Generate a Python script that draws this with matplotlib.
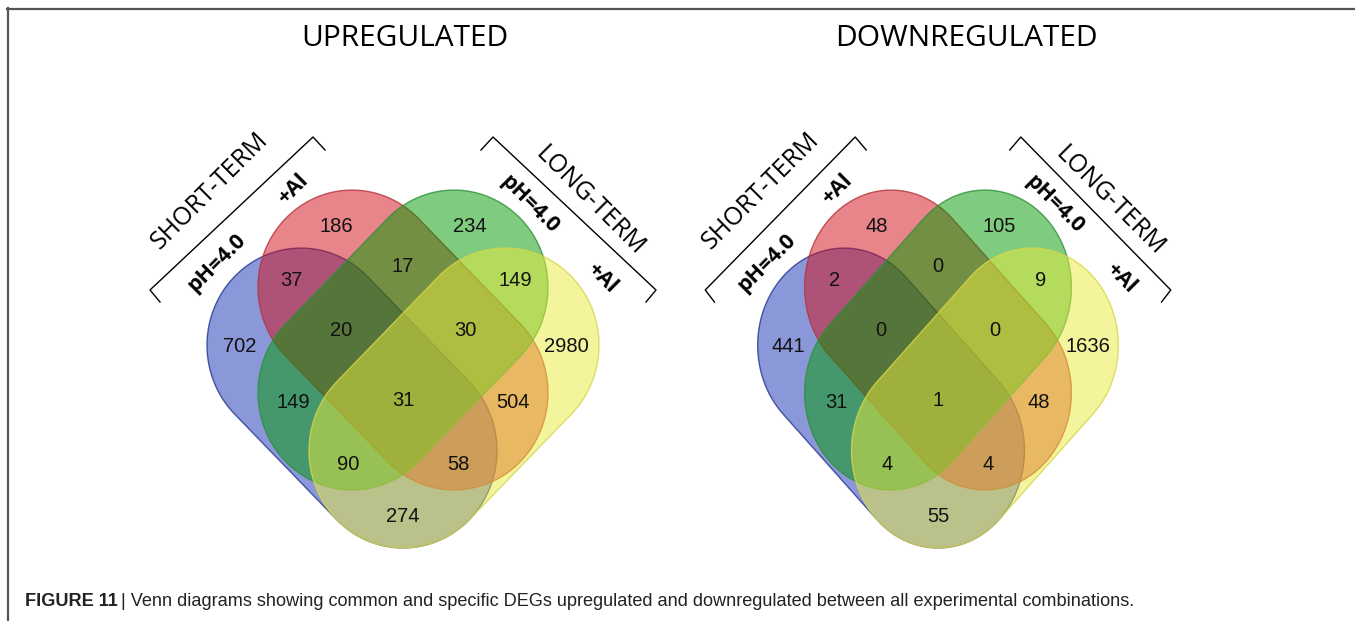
import numpy as np
import matplotlib.pyplot as plt
from matplotlib.patches import Polygon

# region order: A = short pH4.0 (blue), B = short +Al (red), C = long pH4.0 (green), D = long +Al (yellow)
regions = ["A", "B", "C", "D", "AB", "AC", "AD", "BC", "BD", "CD",
           "ABC", "ABD", "ACD", "BCD", "ABCD"]
up_counts = [702, 186, 234, 2980, 37, 149, 274, 17, 504, 149, 20, 58, 90, 30, 31]
down_counts = [441, 48, 105, 1636, 2, 31, 55, 0, 48, 9, 0, 4, 4, 0, 1]
panel_titles = ["UPREGULATED", "DOWNREGULATED"]
caption_bold = "FIGURE 11"
caption_text = ("Venn diagrams showing common and specific DEGs upregulated and "
                "downregulated between all experimental combinations.")

# layout (pixel coords, y down), relative to panel centre
label_pos = {
    "A": (-163, 347), "D": (163, 347), "B": (-67, 226), "C": (67, 226),
    "AB": (-112, 280), "CD": (112, 280), "AC": (-110, 402), "BD": (110, 402),
    "ABC": (-62, 330), "BCD": (62, 330), "ACD": (-55, 464), "ABD": (55, 464),
    "BC": (0, 267), "ABCD": (0, 400), "AD": (0, 517),
}
sets = [  # centre, direction, fill, edge
    ((-51, 398), 45, "#1733b5", "#24358f"),
    ((0, 340), 45, "#d30d17", "#b4343a"),
    ((0, 340), 135, "#009900", "#2f8f3a"),
    ((51, 398), 135, "#ebeb3d", "#d6d64a"),
]
half_box, rad, stretch_y = 145, 94, 1.034
half_len = np.sqrt(2) * (half_box - rad)


def stadium(c, ang, x0, sx):
    a = np.deg2rad(ang)
    d = np.array([np.cos(a), np.sin(a)])
    t1 = np.linspace(a - np.pi / 2, a + np.pi / 2, 60)
    t2 = np.linspace(a + np.pi / 2, a + 3 * np.pi / 2, 60)
    p1 = half_len * d + rad * np.c_[np.cos(t1), np.sin(t1)]
    p2 = -half_len * d + rad * np.c_[np.cos(t2), np.sin(t2)]
    off = np.vstack([p1, p2])
    x = x0 + (c[0] + off[:, 0]) * sx
    y = c[1] + off[:, 1] * stretch_y
    return np.c_[x, y]


fig = plt.figure(figsize=(13.55, 6.21), dpi=100)
ax = fig.add_axes([0, 0, 1, 1])
ax.set_xlim(0, 1355)
ax.set_ylim(621, 0)
ax.axis("off")

# frame
ax.plot([7, 1355], [8.5, 8.5], color="#555555", lw=1.6)
ax.plot([7.5, 7.5], [8, 621], color="#555555", lw=1.6)

panels = [(403, 1.0, up_counts, 405), (938, 0.92, down_counts, 966)]
for (x0, sx, counts, tx), title in zip(panels, panel_titles):
    ax.text(tx, 38, title, ha="center", va="center", fontsize=21.5,
            family="Open Sans")
    for c, ang, fc, ec in sets:
        ax.add_patch(Polygon(stadium(c, ang, x0, sx), closed=True,
                             facecolor=fc, alpha=0.5, edgecolor="none"))
        ax.add_patch(Polygon(stadium(c, ang, x0, sx), closed=True,
                             facecolor="none", edgecolor=ec, lw=1.0, alpha=0.8))
    for reg, n in zip(regions, counts):
        dx, y = label_pos[reg]
        ax.text(x0 + dx * sx, y, str(n), ha="center", va="center",
                fontsize=14.5, family="Liberation Sans", color="#111111")

    # brackets
    for side in (-1, 1):
        bx = np.array([243, 253, 90, 78]) * side
        by = [302, 290, 137, 150]
        ax.plot(x0 + bx * sx, by, color="black", lw=1.0)
    ax.text(x0 - 193 * sx, 191, "SHORT-TERM", rotation=45, ha="center",
            va="center", fontsize=18, family="Open Sans", rotation_mode="anchor")
    ax.text(x0 + 187 * sx, 201, "LONG-TERM", rotation=-45, ha="center",
            va="center", fontsize=18, family="Open Sans", rotation_mode="anchor")
    ax.text(x0 - 186 * sx, 263, "pH=4.0", rotation=45, ha="center", va="center",
            fontsize=15.5, weight="bold", family="Open Sans", rotation_mode="anchor")
    ax.text(x0 - 110 * sx, 189, "+Al", rotation=45, ha="center", va="center",
            fontsize=15.5, weight="bold", family="Open Sans", rotation_mode="anchor")
    ax.text(x0 + 127 * sx, 204, "pH=4.0", rotation=-45, ha="center", va="center",
            fontsize=15.5, weight="bold", family="Open Sans", rotation_mode="anchor")
    ax.text(x0 + 199 * sx, 278, "+Al", rotation=-45, ha="center", va="center",
            fontsize=15.5, weight="bold", family="Open Sans", rotation_mode="anchor")

# caption, sized so it spans about the same width as the original
cap_font = ["Liberation Sans Narrow", "Liberation Sans"]
size = 12
t1 = ax.text(25, 601, caption_bold, ha="left", va="center", fontsize=size,
             weight="bold", family=cap_font, color="#222222")
fig.canvas.draw()
bb = t1.get_window_extent()
t2 = ax.text(bb.x1 + 3, 601, "| " + caption_text, ha="left", va="center",
             fontsize=size, family=cap_font, color="#222222")
fig.canvas.draw()
width = t2.get_window_extent().x1 - 25
size = size * 1117 / width
t1.set_fontsize(size)
fig.canvas.draw()
bb = t1.get_window_extent()
t2.set_fontsize(size)
t2.set_x(bb.x1 + 3)

plt.savefig("out.png", dpi=100)
